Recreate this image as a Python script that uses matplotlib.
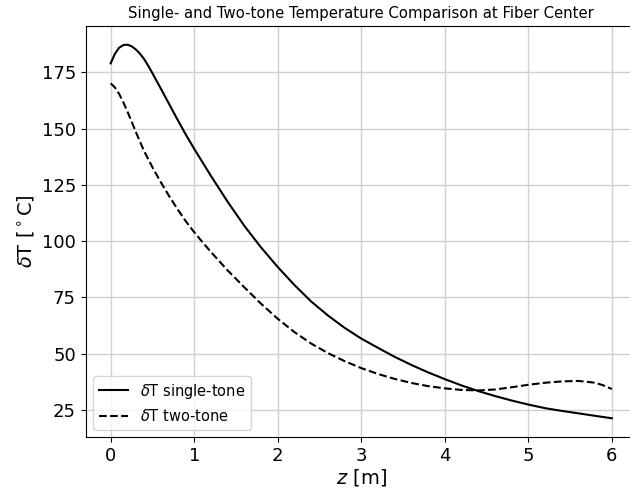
#!/usr/bin/env python3
"""Single- vs two-tone temperature at fiber center."""

import matplotlib
matplotlib.use("Agg")
import matplotlib.pyplot as plt

# Position along fiber [m]
z_single = [0.0, 0.05, 0.1, 0.15, 0.2, 0.25, 0.3, 0.35, 0.4, 0.45, 0.5,
            0.6, 0.7, 0.8, 0.9, 1.0, 1.2, 1.4, 1.6, 1.8, 2.0, 2.2, 2.4,
            2.6, 2.8, 3.0, 3.2, 3.4, 3.6, 3.8, 4.0, 4.2, 4.4, 4.6, 4.8,
            5.0, 5.2, 5.4, 5.6, 5.8, 6.0]
dT_single = [179.0, 183.2, 185.9, 187.1, 187.3, 186.6, 185.2, 183.3, 180.9,
             177.9, 174.6, 167.8, 160.9, 154.0, 147.3, 141.0, 129.0, 117.5,
             106.8, 97.2, 88.5, 80.5, 73.2, 67.0, 61.5, 56.7, 52.6, 48.6,
             45.0, 41.7, 38.7, 35.9, 33.4, 31.2, 29.2, 27.4, 25.8, 24.6,
             23.5, 22.4, 21.3]

z_two = [0.0, 0.05, 0.1, 0.15, 0.2, 0.25, 0.3, 0.4, 0.5, 0.6, 0.7, 0.8,
         0.9, 1.0, 1.1, 1.2, 1.4, 1.6, 1.8, 2.0, 2.2, 2.4, 2.6, 2.8, 3.0,
         3.2, 3.4, 3.6, 3.8, 4.0, 4.2, 4.4, 4.6, 4.8, 5.0, 5.2, 5.4, 5.6,
         5.8, 5.9, 6.0]
dT_two = [170.1, 168.3, 165.5, 161.8, 157.6, 153.2, 148.6, 140.0, 132.8,
          126.2, 120.0, 114.2, 108.8, 104.0, 99.5, 95.2, 87.0, 79.5, 72.2,
          65.5, 59.6, 54.5, 50.3, 46.7, 43.6, 41.0, 38.8, 37.0, 35.6, 34.6,
          33.9, 33.7, 34.1, 35.1, 36.2, 37.1, 37.7, 37.9, 37.1, 35.9, 34.3]

fig = plt.figure(figsize=(6.3, 4.92), dpi=100)
ax = fig.add_axes([0.1359, 0.1118, 0.8752, 0.8354])

ax.plot(z_single, dT_single, color='black', lw=1.5, label=r'$\delta$T single-tone')
ax.plot(z_two, dT_two, color='black', lw=1.5, ls='--', label=r'$\delta$T two-tone')

ax.set_title('Single- and Two-tone Temperature Comparison at Fiber Center', fontsize=10.7)
ax.set_xlabel(r'$z$ [m]', fontsize=14, labelpad=2)
ax.set_ylabel(r'$\delta$T [$^\circ$C]', fontsize=14)
ax.tick_params(labelsize=13)
ax.grid(True, color='#d0d0d0', lw=1)
ax.legend(loc='lower left', fontsize=10.5)

fig.savefig('out.png', dpi=100)
